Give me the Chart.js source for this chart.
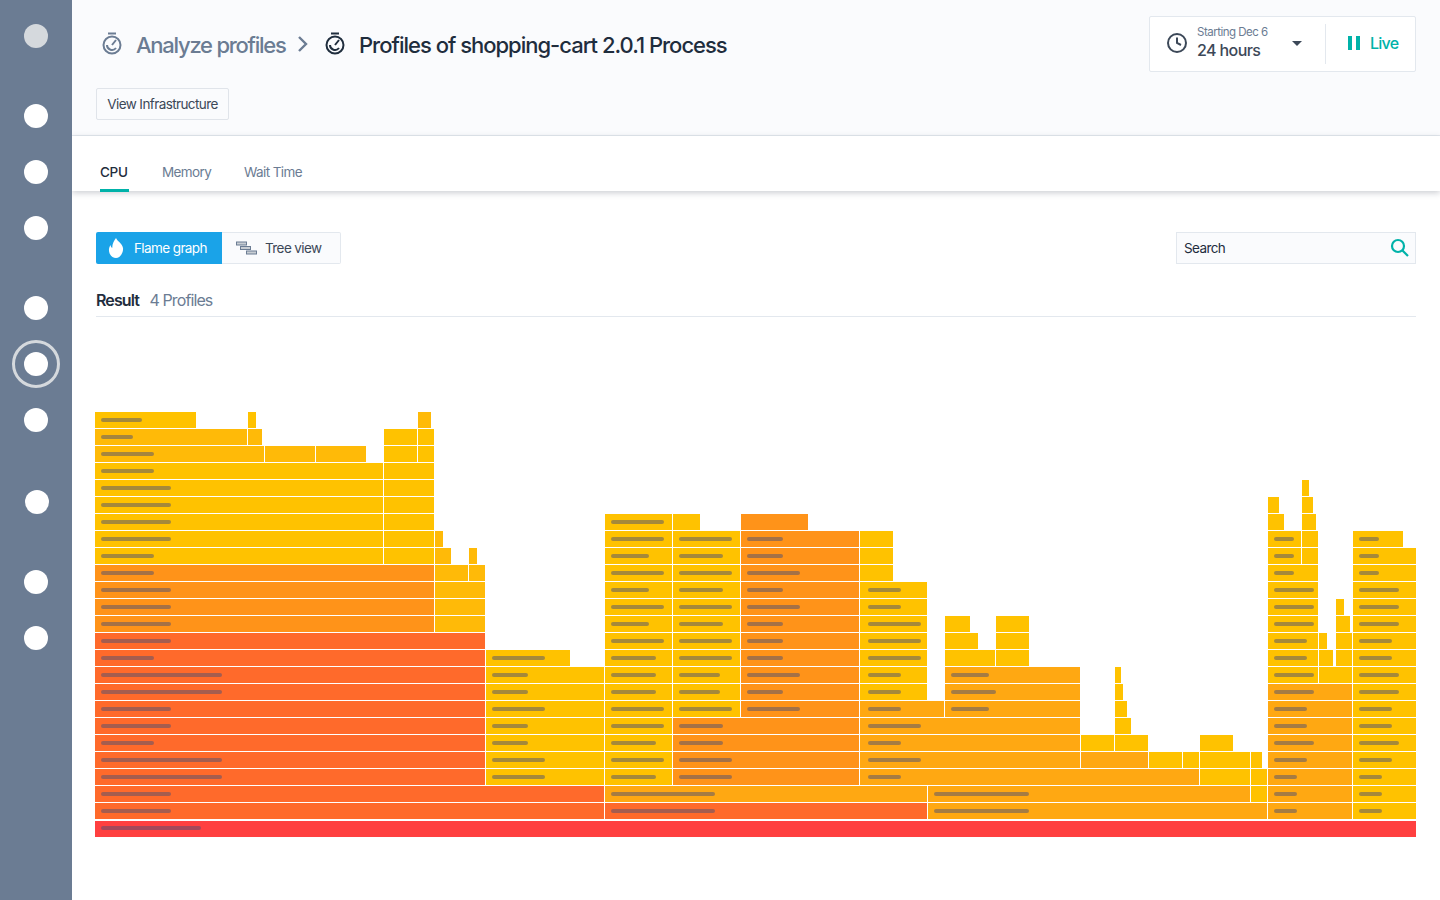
<!DOCTYPE html>
<html><head><meta charset="utf-8">
<script src="https://cdn.jsdelivr.net/npm/chart.js@4"></script>
<style>
html,body{margin:0;padding:0;width:1440px;height:900px;overflow:hidden;background:#fff;font-family:Inter,"Noto Sans",sans-serif;-webkit-font-smoothing:antialiased}
.a{position:absolute;white-space:nowrap}
#side{left:0;top:0;width:72px;height:900px;background:#6B7C93;z-index:5}
.dot{position:absolute;width:24px;height:24px;border-radius:50%;background:#fff}
#head{left:72px;top:0;width:1368px;height:135px;background:#FAFBFD;border-bottom:1px solid #E3E8EE}
#tabs{left:72px;top:136px;width:1368px;height:55px;background:#fff;box-shadow:0 2px 6px rgba(50,60,80,.25)}
canvas{position:absolute;left:95px;top:403px}
.s{font-size:13.5px;letter-spacing:-.6px;line-height:18px}
.m{font-size:16px;letter-spacing:-.9px;line-height:20px}
.t{font-size:22px;letter-spacing:-1px;line-height:28px;font-weight:500}
</style></head><body>
<div class="a" id="head"></div>
<div class="a" id="tabs"></div>
<div class="a" id="side">
<div class="dot" style="left:24px;top:24px;background:#D5D9DD"></div>
<div class="dot" style="left:24px;top:104px"></div>
<div class="dot" style="left:24px;top:160px"></div>
<div class="dot" style="left:24px;top:216px"></div>
<div class="dot" style="left:24px;top:296px"></div>
<div class="dot" style="left:24px;top:352px"></div>
<div style="position:absolute;left:12px;top:340px;width:42px;height:42px;border:3px solid #D5D9DD;border-radius:50%"></div>
<div class="dot" style="left:24px;top:408px"></div>
<div class="dot" style="left:25px;top:490px"></div>
<div class="dot" style="left:24px;top:570px"></div>
<div class="dot" style="left:24px;top:626px"></div>
</div>

<svg class="a" style="left:100px;top:31px" width="24" height="26" viewBox="0 0 24 26" fill="none" stroke="#6B7C93" stroke-width="2"><circle cx="12" cy="14" r="8.500"/><path d="M8 2.500h8M12 14l4-5M7 14a5 5 0 0 0 9 3"/></svg>
<div class="a t" style="left:136px;top:31px;color:#6B7C93;letter-spacing:-1.25px">Analyze profiles</div>
<svg class="a" style="left:296px;top:35px" width="14" height="18" viewBox="0 0 14 18" fill="none" stroke="#6B7C93" stroke-width="2.400"><path d="M3 2l7 7-7 7"/></svg>
<svg class="a" style="left:323px;top:31px" width="24" height="26" viewBox="0 0 24 26" fill="none" stroke="#1F2D3D" stroke-width="2"><circle cx="12" cy="14" r="8.500"/><path d="M8 2.500h8M12 14l4-5M7 14a5 5 0 0 0 9 3"/></svg>
<div class="a t" style="left:359px;top:31px;color:#1F2D3D">Profiles of shopping-cart 2.0.1 Process</div>
<div class="a s" style="left:96px;top:88px;width:131px;height:30px;border:1px solid #E0E4EA;border-radius:2px;line-height:30px;text-align:center;color:#3C4858">View Infrastructure</div>

<div class="a" style="left:1149px;top:16px;width:265px;height:54px;border:1px solid #E3E8EE;border-radius:2px;background:#fff"></div>
<svg class="a" style="left:1166px;top:32px" width="22" height="22" viewBox="0 0 22 22" fill="none" stroke="#3C4858" stroke-width="2"><circle cx="11" cy="11" r="9"/><path d="M11 5.500V11l4 2"/></svg>
<div class="a" style="left:1197px;top:25px;font-size:11.500px;letter-spacing:-.5px;line-height:14px;color:#6B7C93">Starting Dec 6</div>
<div class="a" style="left:1197px;top:40px;font-size:16px;letter-spacing:-.6px;line-height:20px;font-weight:500;color:#3C4858">24 hours</div>
<div class="a" style="left:1292px;top:41px;width:0;height:0;border-left:5px solid transparent;border-right:5px solid transparent;border-top:5px solid #3C4858"></div>
<div class="a" style="left:1325px;top:24px;width:1px;height:40px;background:#E3E8EE"></div>
<div class="a" style="left:1348px;top:36px;width:4px;height:14px;background:#00B2A9"></div>
<div class="a" style="left:1356px;top:36px;width:4px;height:14px;background:#00B2A9"></div>
<div class="a" style="left:1370px;top:33px;font-size:16px;letter-spacing:-.75px;line-height:20px;font-weight:500;color:#00B2A9">Live</div>

<div class="a s" style="left:100px;top:163px;font-weight:500;color:#1F2D3D;letter-spacing:-.3px">CPU</div>
<div class="a" style="left:100px;top:189px;width:29px;height:3px;background:#00B2A9"></div>
<div class="a s" style="left:162px;top:163px;color:#6B7C93">Memory</div>
<div class="a s" style="left:244px;top:163px;color:#6B7C93">Wait Time</div>

<div class="a" style="left:96px;top:232px;width:126px;height:32px;background:#1AA3E8;border-radius:2px 0 0 2px"></div>
<svg class="a" style="left:107px;top:237px" width="18" height="22" viewBox="0 0 18 22"><path fill="#fff" d="M9 1c1 3 6 5 7 10 .6 5-3 10-7 10S1.500 17 2 12c.2-2 1-3 1.500-4 .3 1.500.8 2.500 1.800 3C5 7 7 4 9 1z"/></svg>
<div class="a s" style="left:134px;top:239px;color:#fff">Flame graph</div>
<div class="a" style="left:222px;top:232px;width:118px;height:30px;background:#FAFBFD;border:1px solid #E3E8EE;border-left:0;border-radius:0 2px 2px 0"></div>
<svg class="a" style="left:236px;top:241px" width="22" height="14" viewBox="0 0 22 14" fill="#C8CDD3" stroke="#6B7C93"><rect x=".5" y="1" width="10" height="3"/><rect x="4.500" y="5.500" width="10" height="3"/><rect x="10.500" y="10" width="10" height="3"/></svg>
<div class="a s" style="left:265px;top:239px;color:#3C4858">Tree view</div>

<div class="a" style="left:1176px;top:232px;width:238px;height:30px;border:1px solid #E3E8EE;background:#FAFBFD"></div>
<div class="a s" style="left:1184px;top:239px;color:#1F2D3D">Search</div>
<svg class="a" style="left:1390px;top:238px" width="20" height="20" viewBox="0 0 20 20" fill="none" stroke="#00B2A9" stroke-width="2.200"><circle cx="8" cy="8" r="6"/><path d="M12.500 12.500L18 18"/></svg>

<div class="a m" style="left:96px;top:290px;font-weight:600;color:#1F2D3D">Result</div>
<div class="a m" style="left:149.500px;top:290px;color:#6B7C93">4 Profiles</div>
<div class="a" style="left:96px;top:316px;width:1320px;height:1px;background:#E3E8EE"></div>

<canvas id="flame" width="1321" height="442"></canvas>
<script>
// Each frame: [stack depth, first sample, last sample]. The root sits just under depth 0 spacing.
const rootDepth = -0.06;
const totalSamples = 1321;
const rootFrames = [[rootDepth,0,1321]];
const redFrames = [
[11,0,390],[10,0,390],[9,0,390],[8,0,390],[7,0,390],[6,0,390],[5,0,390],[4,0,390],[3,0,390],
[2,0,509],[1,0,509],[1,510,832]];
const orangeFrames = [
[15,0,339],[14,0,339],[13,0,339],[12,0,339],
[18,646,713],[17,646,764],[16,646,764],[15,646,764],[14,646,764],[13,646,764],[12,646,764],[11,646,764],[10,646,764],[9,646,764],[8,646,764],[7,646,764],
[6,578,764],[5,578,764],[4,578,764],[3,578,764]];
const amberFrames = [
[9,850,985],[8,850,985],[7,765,849],[7,850,985],[6,765,985],[5,765,985],[4,765,985],[4,986,1053],[3,765,1104],
[2,510,832],[2,833,1155],[1,833,1172],
[8,1173,1257],[7,1173,1257],[6,1173,1257],[5,1173,1257],[4,1173,1257],[3,1173,1257],[2,1173,1257],[1,1173,1257]];
const goldFrames = [
[24,323,336],[23,0,152],[23,153,167],[22,0,169],[22,170,220],[22,221,271],
[17,340,348],[16,340,356],[16,374,382],[15,340,373],[15,374,390],[14,340,390],[13,340,390],[12,340,390]];
const yellowFrames = [
[24,0,101],[24,153,161],[23,289,322],[23,323,339],[22,289,322],[22,323,339],
[21,0,288],[21,289,339],[20,0,288],[20,289,339],[19,0,288],[19,289,339],[18,0,288],[18,289,339],[17,0,288],[17,289,339],[16,0,288],[16,289,339],
[10,391,475],[9,391,509],[8,391,509],[7,391,509],[6,391,509],[5,391,509],[4,391,509],[3,391,509],
[18,510,577],[17,510,577],[16,510,577],[15,510,577],[14,510,577],[13,510,577],[12,510,577],[11,510,577],[10,510,577],[9,510,577],[8,510,577],[7,510,577],[6,510,577],[5,510,577],[4,510,577],[3,510,577],
[18,578,605],[17,578,645],[16,578,645],[15,578,645],[14,578,645],[13,578,645],[12,578,645],[11,578,645],[10,578,645],[9,578,645],[8,578,645],[7,578,645],
[17,765,798],[16,765,798],[15,765,798],[14,765,832],[13,765,832],[12,765,832],[11,765,832],[10,765,832],[9,765,832],[8,765,832],
[12,850,875],[12,901,934],[11,850,883],[11,901,934],[10,850,900],[10,901,934],
[9,1020,1026],[8,1020,1028],[7,1020,1032],[6,1020,1036],[5,986,1019],[5,1020,1053],[5,1105,1138],
[4,1054,1087],[4,1088,1104],[4,1105,1155],[4,1156,1167],[3,1105,1155],[3,1156,1172],[2,1156,1172],
[20,1207,1214],[19,1173,1184],[19,1207,1218],[18,1173,1189],[18,1207,1221],[17,1173,1206],[17,1207,1223],[16,1173,1206],[16,1207,1223],
[15,1173,1223],[14,1173,1223],[13,1173,1223],[13,1241,1249],[12,1173,1223],[12,1241,1255],[11,1173,1223],[11,1224,1232],[11,1241,1257],
[10,1173,1223],[10,1224,1238],[10,1241,1257],[9,1173,1223],[9,1224,1257],
[17,1258,1308],[16,1258,1321],[15,1258,1321],[14,1258,1321],[13,1258,1321],[12,1258,1321],[11,1258,1321],[10,1258,1321],[9,1258,1321],[8,1258,1321],[7,1258,1321],[6,1258,1321],[5,1258,1321],[4,1258,1321],[3,1258,1321],[2,1258,1321],[1,1258,1321]];
// Greeked frame names: [stack depth, start, end]
const nameBars = [
[24,6,47],[23,6,38],[22,6,59],[21,6,59],[20,6,76],[19,6,76],[18,6,76],[17,6,76],[16,6,59],[15,6,59],[14,6,76],[13,6,76],[12,6,76],[11,6,76],[10,6,59],[9,6,127],[8,6,127],[7,6,76],[6,6,76],[5,6,59],[4,6,127],[3,6,127],[2,6,76],[1,6,76],[0,6,106],
[10,397,450],[9,397,433],[8,397,433],[7,397,450],[6,397,433],[5,397,433],[4,397,450],[3,397,450],
[18,516,569],[17,516,569],[16,516,554],[15,516,569],[14,516,554],[13,516,569],[12,516,554],[11,516,569],[10,516,561],[9,516,561],[8,516,561],[7,516,569],[6,516,569],[5,516,561],[4,516,569],[3,516,561],
[17,584,637],[16,584,628],[15,584,637],[14,584,628],[13,584,637],[12,584,628],[11,584,637],[10,584,637],[9,584,625],[8,584,625],[7,584,637],[6,584,628],[5,584,628],[4,584,637],[3,584,637],
[17,652,688],[16,652,688],[15,652,705],[14,652,688],[13,652,705],[12,652,688],[11,652,688],[10,652,688],[9,652,705],[8,652,688],[7,652,705],
[14,773,806],[13,773,806],[12,773,826],[11,773,826],[10,773,826],[9,773,806],[8,773,806],[7,773,806],[6,773,826],[5,773,806],[4,773,826],[3,773,806],
[9,856,894],[8,856,901],[7,856,894],
[2,516,620],[1,516,620],[2,839,934],[1,839,934],
[17,1179,1199],[16,1179,1199],[15,1179,1199],[14,1179,1219],[13,1179,1219],[12,1179,1219],[11,1179,1212],[10,1179,1212],[9,1179,1219],[8,1179,1219],[7,1179,1212],[6,1179,1212],[5,1179,1219],[4,1179,1212],[3,1179,1202],[2,1179,1202],[1,1179,1202],
[17,1264,1284],[16,1264,1284],[15,1264,1284],[14,1264,1304],[13,1264,1304],[12,1264,1304],[11,1264,1297],[10,1264,1297],[9,1264,1304],[8,1264,1304],[7,1264,1297],[6,1264,1297],[5,1264,1304],[4,1264,1297],[3,1264,1287],[2,1264,1287],[1,1264,1287]];

const toPoints = list => list.map(([d,s,e]) => ({x:[s,e], y:d}));
const frameSet = (label,list,color) => ({label, data:toPoints(list), backgroundColor:color, barThickness:16, order:2});
new Chart(document.getElementById('flame'), {
  type:'bar',
  data:{datasets:[
    frameSet('Root', rootFrames, '#FF4040'),
    frameSet('Hottest', redFrames, '#FF6A2B'),
    frameSet('Hot', orangeFrames, '#FF9319'),
    frameSet('Warm', amberFrames, '#FFA812'),
    frameSet('Mild', goldFrames, '#FFBA08'),
    frameSet('Cool', yellowFrames, '#FFC200'),
    {label:'Names', data:toPoints(nameBars), backgroundColor:'rgba(75,79,116,.5)', barThickness:4, borderRadius:2, order:1}
  ]},
  options:{
    indexAxis:'y', responsive:false, animation:false, devicePixelRatio:1,
    layout:{padding:0},
    datasets:{bar:{grouped:false, borderWidth:0, borderSkipped:false, inflateAmount:0}},
    plugins:{legend:{display:false}, tooltip:{enabled:false}},
    scales:{
      x:{type:'linear', min:0, max:totalSamples, display:false},
      y:{type:'linear', offset:false, min:-1, max:25, display:false}
    }
  }
});
</script>
</body></html>
